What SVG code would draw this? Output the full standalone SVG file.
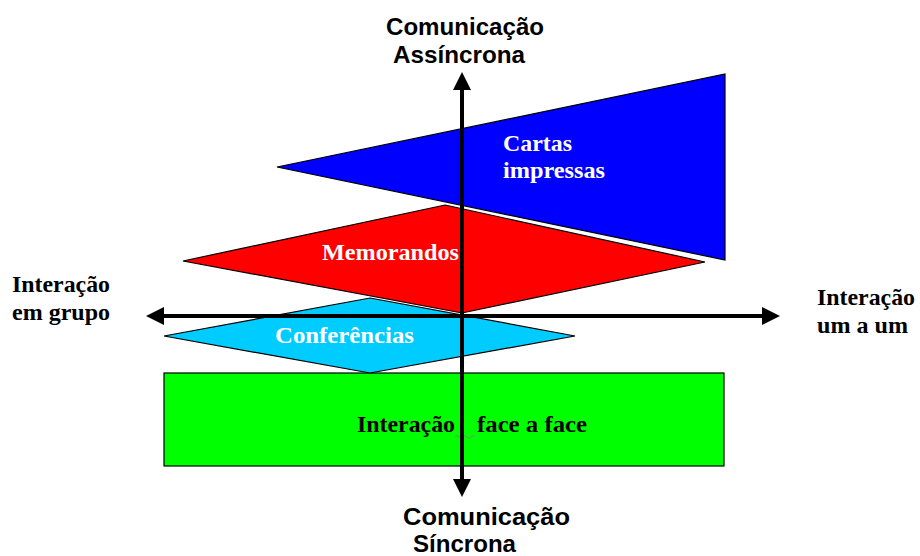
<svg xmlns="http://www.w3.org/2000/svg" width="920" height="556" viewBox="0 0 920 556">
<style>
.shape{stroke:#000;stroke-width:1.2;stroke-linejoin:miter}
.sans{font-family:"Liberation Sans",Arial,sans-serif;font-weight:bold;font-size:24px;fill:#000}
.serif{font-family:"Liberation Serif","Times New Roman",serif;font-weight:bold;font-size:24px}
.w{fill:#fff}
.k{fill:#000}
.axis{stroke:#000;stroke-width:4;fill:none}
</style>
<defs>
<marker id="ah" viewBox="0 0 18 18" refX="14" refY="9" markerWidth="18" markerHeight="18" markerUnits="userSpaceOnUse" orient="auto">
<path d="M0,0 L18,9 L0,18 Z" fill="#000"/>
</marker>
</defs>
<rect width="920" height="556" fill="#fff"/>
<g id="face">
<rect class="shape" x="164" y="373" width="560" height="93" fill="#00FF00"/>
<text class="serif k" x="357" y="432" textLength="98" lengthAdjust="spacingAndGlyphs">Interação</text>
<text class="serif k" x="477" y="432" textLength="110" lengthAdjust="spacingAndGlyphs">face a face</text>
<path d="M455,437 q2,-3 4,0 t4,0 t4,0 t4,0 t4,0" fill="none" stroke="#808080" stroke-width="0.8"/>
</g>
<g id="conferencias">
<polygon class="shape" points="370,298 575,336 370,373 164,336" fill="#00CCFF"/>
<text class="serif w" x="275" y="343" textLength="139" lengthAdjust="spacingAndGlyphs">Conferências</text>
</g>
<g id="memorandos">
<polygon class="shape" points="445,205 705,262 462,313 183,261" fill="#FF0000"/>
<text class="serif w" x="322" y="260" textLength="137" lengthAdjust="spacingAndGlyphs">Memorandos</text>
</g>
<g id="cartas">
<polygon class="shape" points="277,167 725,74 725,260" fill="#0000FF"/>
<text class="serif w" x="503" y="151" textLength="69" lengthAdjust="spacingAndGlyphs">Cartas</text>
<text class="serif w" x="503" y="178" textLength="102" lengthAdjust="spacingAndGlyphs">impressas</text>
</g>
<g id="connectors">
<line class="axis" x1="462" y1="316" x2="462" y2="76" marker-end="url(#ah)"/>
<line class="axis" x1="462" y1="316" x2="462" y2="493" marker-end="url(#ah)"/>
<line class="axis" x1="462" y1="316" x2="150" y2="316" marker-end="url(#ah)"/>
<line class="axis" x1="462" y1="316" x2="776" y2="316" marker-end="url(#ah)"/>
</g>
<g id="label-top">
<text class="sans" x="386" y="35" textLength="158" lengthAdjust="spacingAndGlyphs">Comunicação</text>
<text class="sans" x="393" y="63" textLength="132" lengthAdjust="spacingAndGlyphs">Assíncrona</text>
</g>
<g id="label-bottom">
<text class="sans" x="403" y="525" textLength="167" lengthAdjust="spacingAndGlyphs">Comunicação</text>
<text class="sans" x="413" y="552" textLength="103" lengthAdjust="spacingAndGlyphs">Síncrona</text>
</g>
<g id="label-left">
<text class="serif k" x="12" y="292" textLength="98" lengthAdjust="spacingAndGlyphs">Interação</text>
<text class="serif k" x="12" y="320" textLength="98" lengthAdjust="spacingAndGlyphs">em grupo</text>
</g>
<g id="label-right">
<text class="serif k" x="817" y="305" textLength="98" lengthAdjust="spacingAndGlyphs">Interação</text>
<text class="serif k" x="817" y="333" textLength="91" lengthAdjust="spacingAndGlyphs">um a um</text>
</g>
</svg>
